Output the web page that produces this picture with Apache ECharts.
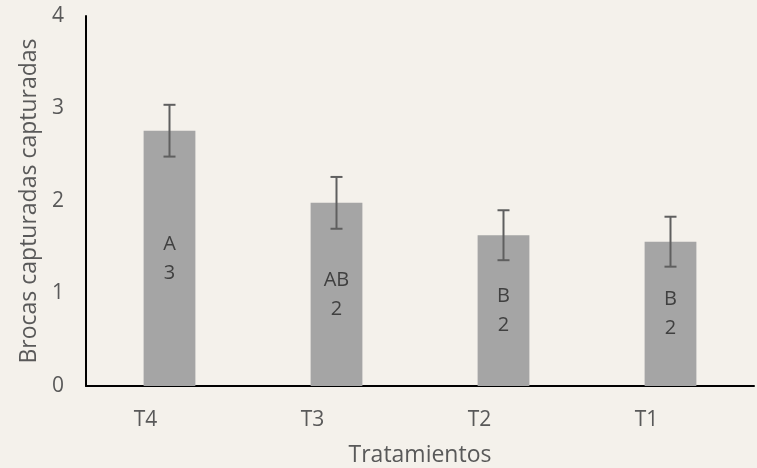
<!DOCTYPE html>
<html>
<head>
<meta charset="utf-8">
<script src="https://cdn.jsdelivr.net/npm/echarts@6/dist/echarts.min.js"></script>
<style>
html,body{margin:0;padding:0;background:#f4f1eb;}
#c{width:757px;height:468px;}
</style>
</head>
<body>
<div id="c"></div>
<script>
const categories = ['T4', 'T3', 'T2', 'T1'];
const means = [2.76, 1.98, 1.63, 1.56];
const errors = [0.28, 0.28, 0.27, 0.27];
const groups = ['A', 'AB', 'B', 'B'];
const yTicks = [0, 1, 2, 3, 4];

const errData = categories.map((c, i) => [i, means[i] - errors[i], means[i] + errors[i]]);
const FONT = '"Open Sans", sans-serif';
const chart = echarts.init(document.getElementById('c'));
chart.setOption({
  backgroundColor: '#f4f1eb',
  animation: false,
  grid: { left: 86, right: 3, top: 16, bottom: 82, containLabel: false, outerBoundsMode: 'none' },
  xAxis: {
    type: 'category',
    data: categories,
    axisLine: { lineStyle: { color: '#000', width: 2 } },
    axisTick: { show: false },
    axisLabel: { color: '#595959', fontSize: 21, fontFamily: FONT, margin: 24, padding: [0, 48, 0, 0] },
    name: 'Tratamientos',
    nameLocation: 'middle',
    nameGap: 58,
    nameTextStyle: { color: '#595959', fontSize: 23, fontFamily: FONT }
  },
  yAxis: {
    type: 'value',
    min: 0, max: 4, interval: 1,
    splitLine: { show: false },
    axisLine: { show: true, lineStyle: { color: '#000', width: 2 } },
    axisTick: { show: false },
    axisLabel: { color: '#595959', fontSize: 21, fontFamily: FONT, margin: 22,
      formatter: v => yTicks.includes(v) ? String(v) : '' },
    name: 'Brocas capturadas capturadas',
    nameLocation: 'middle',
    nameGap: 34,
    nameTextStyle: { color: '#595959', fontSize: 23, fontFamily: FONT }
  },
  series: [
    {
      type: 'bar',
      data: means,
      barWidth: '31%',
      itemStyle: { color: '#a5a5a5' },
      label: {
        show: true,
        position: 'inside',
        color: '#404040',
        fontSize: 20,
        fontFamily: FONT,
        lineHeight: 29,
        formatter: p => groups[p.dataIndex] + '\n' + Math.round(means[p.dataIndex])
      },
      z: 2
    },
    {
      type: 'custom',
      data: errData,
      z: 5,
      renderItem: (params, api) => {
        const x = api.value(0);
        const lo = api.coord([x, api.value(1)]);
        const hi = api.coord([x, api.value(2)]);
        const hw = 6;
        const style = { stroke: '#5f5f5f', lineWidth: 2 };
        return {
          type: 'group',
          children: [
            { type: 'line', shape: { x1: lo[0], y1: lo[1], x2: hi[0], y2: hi[1] }, style },
            { type: 'line', shape: { x1: lo[0] - hw, y1: lo[1], x2: lo[0] + hw, y2: lo[1] }, style },
            { type: 'line', shape: { x1: hi[0] - hw, y1: hi[1], x2: hi[0] + hw, y2: hi[1] }, style }
          ]
        };
      }
    }
  ]
});
</script>
</body>
</html>
